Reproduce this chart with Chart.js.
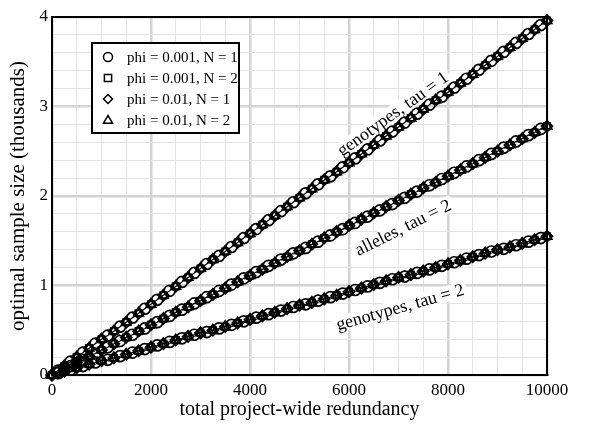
<!DOCTYPE html>
<html>
<head>
<meta charset="utf-8">
<script src="https://cdn.jsdelivr.net/npm/chart.js@4/dist/chart.umd.min.js"></script>
<style>
  html, body { margin: 0; padding: 0; background: #fff; }
  #wrap { width: 600px; height: 429px; position: relative; }
</style>
</head>
<body>
<div id="wrap"><canvas id="c" width="600" height="429"></canvas></div>
<script>
// redundancy values (x), one point every 125
const redundancy = [0,125,250,375,500,625,750,875,1000,1125,1250,1375,1500,1625,1750,1875,2000,2125,2250,2375,2500,2625,2750,2875,3000,3125,3250,3375,3500,3625,3750,3875,4000,4125,4250,4375,4500,4625,4750,4875,5000,5125,5250,5375,5500,5625,5750,5875,6000,6125,6250,6375,6500,6625,6750,6875,7000,7125,7250,7375,7500,7625,7750,7875,8000,8125,8250,8375,8500,8625,8750,8875,9000,9125,9250,9375,9500,9625,9750,9875,10000];

// optimal sample size (thousands)
const genotypesTau1 = [0.00,0.05,0.10,0.15,0.20,0.25,0.30,0.35,0.40,0.44,0.49,0.54,0.59,0.64,0.69,0.74,0.79,0.84,0.89,0.94,0.99,1.04,1.09,1.14,1.19,1.24,1.29,1.33,1.38,1.43,1.48,1.53,1.58,1.63,1.68,1.73,1.78,1.83,1.88,1.93,1.98,2.03,2.08,2.13,2.18,2.22,2.27,2.32,2.37,2.42,2.47,2.52,2.57,2.62,2.67,2.72,2.77,2.82,2.87,2.92,2.97,3.02,3.07,3.11,3.16,3.21,3.26,3.31,3.36,3.41,3.46,3.51,3.56,3.61,3.66,3.71,3.76,3.81,3.86,3.91,3.96];
const allelesTau2 = [0.00,0.03,0.07,0.10,0.14,0.17,0.21,0.24,0.28,0.31,0.35,0.38,0.42,0.45,0.49,0.52,0.56,0.59,0.63,0.66,0.70,0.73,0.76,0.80,0.83,0.87,0.90,0.94,0.97,1.01,1.04,1.08,1.11,1.15,1.18,1.22,1.25,1.29,1.32,1.36,1.39,1.42,1.46,1.49,1.53,1.56,1.60,1.63,1.67,1.70,1.74,1.77,1.81,1.84,1.88,1.91,1.95,1.98,2.02,2.05,2.09,2.12,2.15,2.19,2.22,2.26,2.29,2.33,2.36,2.40,2.43,2.47,2.50,2.54,2.57,2.61,2.64,2.68,2.71,2.75,2.78];
const genotypesTau2 = [0.00,0.02,0.04,0.06,0.08,0.10,0.12,0.14,0.16,0.17,0.19,0.21,0.23,0.25,0.27,0.29,0.31,0.33,0.35,0.37,0.39,0.41,0.43,0.45,0.47,0.48,0.50,0.52,0.54,0.56,0.58,0.60,0.62,0.64,0.66,0.68,0.70,0.72,0.74,0.76,0.78,0.79,0.81,0.83,0.85,0.87,0.89,0.91,0.93,0.95,0.97,0.99,1.01,1.03,1.05,1.07,1.09,1.10,1.12,1.14,1.16,1.18,1.20,1.22,1.24,1.26,1.28,1.30,1.32,1.34,1.36,1.38,1.40,1.41,1.43,1.45,1.47,1.49,1.51,1.53,1.55];

const legendLabels = ['phi = 0.001, N = 1', 'phi = 0.001, N = 2', 'phi = 0.01, N = 1', 'phi = 0.01, N = 2'];
const markerStyles = ['circle', 'rect', 'rectRot', 'triangle'];

const curves = [genotypesTau1, allelesTau2, genotypesTau2];
const curveLabels = ['genotypes, tau = 1', 'alleles, tau = 2', 'genotypes, tau = 2'];
// where each curve label sits (data units)
const curveLabelX = [6880, 7090, 7030];
const curveLabelY = [2.92, 1.65, 0.76];

const FONT = "'Liberation Serif', 'DejaVu Serif', serif";

const datasets = [];
curves.forEach((ys) => {
  datasets.push({
    data: redundancy.map((x, i) => ({ x: x, y: ys[i] })),
    showLine: true,
    borderColor: '#000',
    borderWidth: 1.2,
    pointRadius: 0,
    clip: false
  });
});
// circles sit on the odd points, the other three sets overlap on the even ones
curves.forEach((ys) => {
  markerStyles.forEach((st, k) => {
    const pts = [];
    redundancy.forEach((x, i) => {
      const onCircle = i % 2 === 1;
      if ((k === 0) === onCircle) pts.push({ x: x, y: ys[i] });
    });
    datasets.push({
      data: pts,
      showLine: false,
      pointStyle: st,
      pointRadius: st === 'rect' ? 4.5 : 5.5,
      pointBorderWidth: 1.7,
      pointBorderColor: '#000',
      pointBackgroundColor: 'rgba(0,0,0,0)',
      clip: false
    });
  });
});

function drawMarker(ctx, st, x, y, r) {
  ctx.beginPath();
  if (st === 'circle') {
    ctx.arc(x, y, r, 0, Math.PI * 2);
  } else if (st === 'rect') {
    ctx.rect(x - r * 0.8, y - r * 0.8, r * 1.6, r * 1.6);
  } else if (st === 'rectRot') {
    ctx.moveTo(x, y - r); ctx.lineTo(x + r, y); ctx.lineTo(x, y + r); ctx.lineTo(x - r, y); ctx.closePath();
  } else {
    ctx.moveTo(x, y - r); ctx.lineTo(x + r, y + r * 0.7); ctx.lineTo(x - r, y + r * 0.7); ctx.closePath();
  }
  ctx.stroke();
}

const boxPlugin = {
  id: 'box',
  beforeDatasetsDraw(chart) {
    const a = chart.chartArea, ctx = chart.ctx;
    ctx.save();
    ctx.strokeStyle = '#000';
    ctx.lineWidth = 2;
    ctx.strokeRect(a.left, a.top, a.right - a.left, a.bottom - a.top);
    ctx.restore();
  },
  afterDatasetsDraw(chart) {
    const ctx = chart.ctx, xs = chart.scales.x, ys = chart.scales.y;
    ctx.save();
    ctx.font = '18px ' + FONT;
    ctx.textAlign = 'center';
    ctx.textBaseline = 'middle';
    curves.forEach((c, j) => {
      const ang = Math.atan2(ys.getPixelForValue(c[c.length - 1]) - ys.getPixelForValue(c[0]),
        xs.getPixelForValue(redundancy[redundancy.length - 1]) - xs.getPixelForValue(redundancy[0]));
      const px = xs.getPixelForValue(curveLabelX[j]), py = ys.getPixelForValue(curveLabelY[j]);
      ctx.save();
      ctx.translate(px, py);
      ctx.rotate(ang);
      const w = ctx.measureText(curveLabels[j]).width;
      ctx.fillStyle = '#fff';
      ctx.fillRect(-w / 2 - 3, -8, w + 6, 16);
      ctx.fillStyle = '#000';
      ctx.fillText(curveLabels[j], 0, 1);
      ctx.restore();
    });
    ctx.restore();
  },
  afterDraw(chart) {
    const ctx = chart.ctx;
    ctx.save();
    ctx.fillStyle = '#fff';
    ctx.fillRect(92, 43, 147, 90);
    ctx.strokeStyle = '#000';
    ctx.lineWidth = 2;
    ctx.strokeRect(92, 43, 147, 90);
    ctx.lineWidth = 1.5;
    ctx.font = '15px ' + FONT;
    ctx.fillStyle = '#000';
    ctx.textBaseline = 'middle';
    legendLabels.forEach((t, i) => {
      const y = 57 + i * 21;
      drawMarker(ctx, markerStyles[i], 108, y, 4.5);
      ctx.fillText(t, 127, y + 1);
    });
    ctx.restore();
  }
};

new Chart(document.getElementById('c'), {
  type: 'scatter',
  data: { datasets: datasets },
  plugins: [boxPlugin],
  options: {
    responsive: false,
    animation: false,
    layout: { padding: { top: 17, right: 53, left: 0, bottom: 0 } },
    plugins: { legend: { display: false }, tooltip: { enabled: false } },
    scales: {
      x: {
        type: 'linear', min: 0, max: 10000,
        afterFit: (s) => { s.height = 54; },
        ticks: {
          stepSize: 500, autoSkip: false, maxRotation: 0, padding: 5,
          color: '#000', font: { family: FONT, size: 17 },
          callback: (v) => (v % 2000 === 0 ? String(v) : '')
        },
        grid: {
          drawTicks: false,
          color: (c) => (c.tick && c.tick.value % 2000 === 0 ? '#d4d4d4' : '#e4e4e4'),
          lineWidth: (c) => (c.tick && c.tick.value % 2000 === 0 ? 2.5 : 1)
        },
        border: { color: '#000', width: 2 },
        title: { display: true, text: 'total project-wide redundancy', color: '#000', font: { family: FONT, size: 20 }, padding: { top: 0, bottom: 7 } }
      },
      y: {
        min: 0, max: 4,
        afterFit: (s) => { s.width = 52; },
        ticks: {
          stepSize: 0.2, autoSkip: false, padding: 4,
          color: '#000', font: { family: FONT, size: 17 },
          callback: (v) => (Math.abs(v - Math.round(v)) < 1e-6 ? String(Math.round(v)) : '')
        },
        grid: {
          drawTicks: false,
          color: (c) => (c.tick && Math.abs(c.tick.value - Math.round(c.tick.value)) < 1e-6 ? '#d4d4d4' : '#e4e4e4'),
          lineWidth: (c) => (c.tick && Math.abs(c.tick.value - Math.round(c.tick.value)) < 1e-6 ? 2.5 : 1)
        },
        border: { color: '#000', width: 2 },
        title: { display: true, text: 'optimal sample size (thousands)', color: '#000', font: { family: FONT, size: 21 }, padding: { top: 6, bottom: 0 } }
      }
    }
  }
});
</script>
</body>
</html>
